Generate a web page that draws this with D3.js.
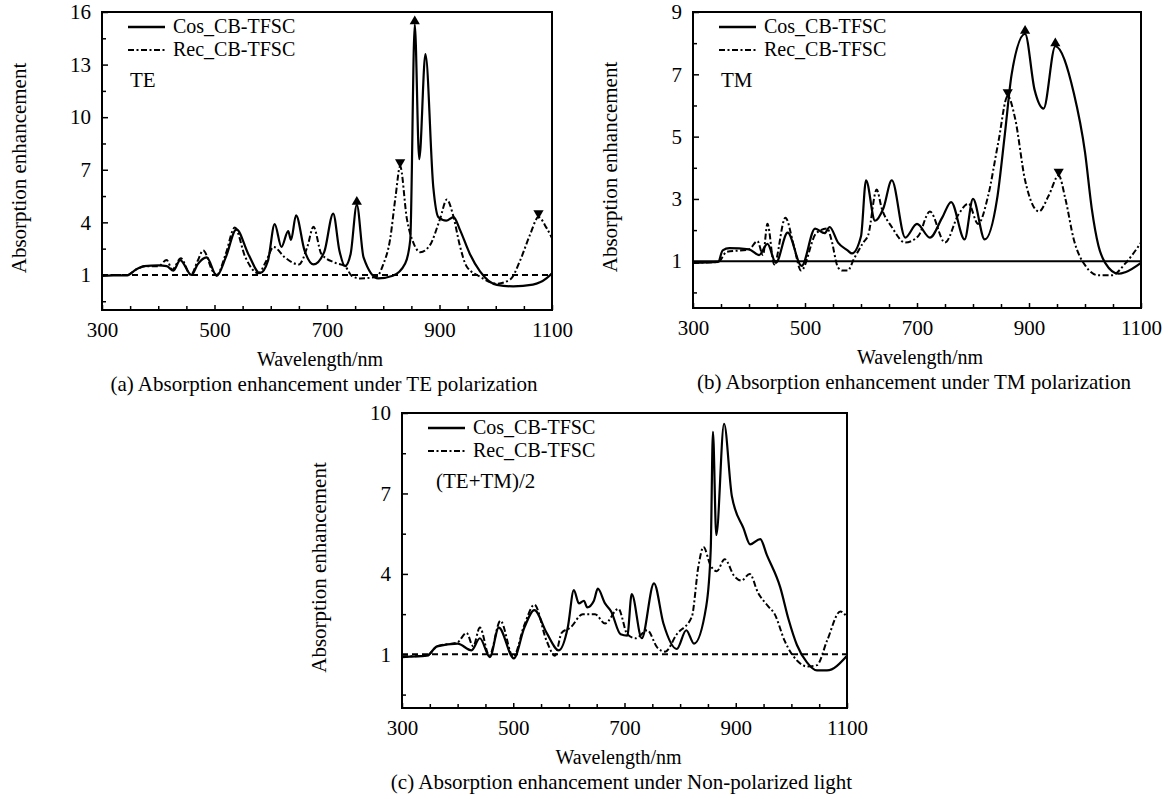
<!DOCTYPE html>
<html>
<head>
<meta charset="utf-8">
<script src="https://cdn.jsdelivr.net/npm/d3@7"></script>
<style>
  body { margin: 0; background: #fff; }
  svg text { font-family: "Liberation Serif", "Times New Roman", serif; fill: #000; }
</style>
</head>
<body>
<div id="viz"></div>
<script>
// [wavelength nm, absorption enhancement]
const teCos = [[300,0.95],[320,0.97],[345,0.98],[360,1.3],[375,1.5],[400,1.55],[415,1.5],[427,1.25],[439,1.85],[459,1.0],[470,1.6],[486,2.0],[504,0.95],[520,2.0],[539,3.6],[560,2.2],[581,1.1],[595,1.8],[607,3.9],[619,2.6],[631,3.5],[636,3.0],[645,4.4],[660,2.4],[676,1.6],[695,2.3],[711,4.5],[722,2.4],[732,1.5],[742,2.2],[753,5.0],[765,2.0],[791,0.8],[817,0.95],[839,1.65],[848,3.0],[856,15.3],[864,7.6],[875,13.6],[889,6.0],[898,4.3],[912,4.1],[925,4.3],[936,3.6],[954,2.2],[972,1.2],[1002,0.43],[1031,0.35],[1066,0.45],[1090,0.8],[1100,1.1]];
const teRec = [[300,1.0],[345,1.0],[360,1.3],[380,1.5],[400,1.5],[415,1.85],[425,1.3],[440,1.95],[458,1.0],[470,1.8],[480,2.4],[497,1.2],[504,1.0],[520,2.2],[536,3.7],[555,2.0],[578,1.1],[592,1.8],[605,2.6],[625,2.0],[650,1.6],[665,2.6],[676,3.75],[690,2.2],[714,1.7],[732,1.5],[744,0.95],[759,0.8],[788,0.9],[800,1.6],[812,3.0],[822,5.5],[830,7.2],[842,4.2],[854,2.8],[866,2.3],[883,2.7],[901,4.2],[913,5.3],[925,4.3],[936,2.7],[948,1.5],[972,0.9],[1002,0.5],[1026,0.75],[1043,1.8],[1061,3.3],[1076,4.3],[1090,3.7],[1100,3.1]];

const tmCos = [[300,0.95],[345,0.98],[353,1.35],[365,1.42],[400,1.38],[418,1.2],[433,1.56],[448,0.95],[469,1.92],[494,0.85],[518,2.05],[535,1.9],[544,2.1],[559,1.6],[576,1.35],[584,1.25],[600,1.8],[609,3.6],[625,2.3],[640,2.7],[655,3.6],[679,1.76],[700,2.2],[723,1.76],[745,2.4],[761,2.9],[785,1.7],[800,3.0],[821,1.7],[843,3.0],[857,5.1],[869,7.0],[893,8.3],[910,6.5],[926,5.9],[947,7.9],[980,6.4],[1000,4.5],[1012,2.7],[1024,1.5],[1036,0.95],[1060,0.6],[1072,0.65],[1100,0.95]];
const tmRec = [[300,0.95],[345,0.98],[360,1.3],[400,1.38],[415,1.65],[425,1.2],[433,2.2],[445,0.9],[465,2.4],[480,1.5],[493,0.7],[520,1.9],[540,2.05],[547,1.7],[559,0.8],[567,0.7],[576,0.7],[588,1.1],[604,1.6],[613,1.85],[628,3.3],[637,2.7],[655,2.1],[679,1.6],[702,1.8],[723,2.6],[750,1.6],[774,2.5],[792,2.85],[809,2.2],[827,3.1],[845,4.8],[862,6.3],[875,5.6],[893,3.6],[918,2.6],[935,3.1],[953,3.75],[965,3.0],[980,1.7],[1001,0.85],[1024,0.55],[1048,0.55],[1072,0.93],[1100,1.6]];

const avgCos = [[300,0.9],[345,0.95],[363,1.3],[400,1.4],[425,1.15],[440,1.6],[458,0.9],[474,2.0],[501,0.85],[520,2.0],[538,2.65],[560,1.8],[582,1.15],[598,2.0],[609,3.4],[618,2.9],[627,3.0],[633,2.75],[645,3.0],[652,3.45],[665,2.9],[676,2.6],[693,1.75],[705,1.7],[713,3.25],[731,1.6],[753,3.65],[770,2.15],[794,1.2],[811,1.9],[825,1.4],[847,2.8],[855,4.9],[859,9.3],[865,5.45],[879,9.6],[893,6.9],[914,5.7],[926,5.1],[944,5.3],[956,4.7],[980,3.5],[995,2.3],[1010,1.35],[1028,0.7],[1046,0.4],[1064,0.4],[1100,0.95]];
const avgRec = [[300,0.92],[345,0.95],[363,1.3],[400,1.45],[416,1.8],[428,1.3],[440,2.0],[457,0.95],[477,2.25],[500,0.9],[520,2.1],[538,2.85],[560,1.5],[575,0.95],[587,1.8],[603,2.0],[625,2.5],[647,2.5],[665,2.15],[689,2.7],[705,1.75],[720,1.6],[741,1.9],[759,1.25],[773,1.1],[794,1.75],[821,2.4],[833,4.3],[842,5.0],[855,4.3],[866,4.1],[880,4.55],[898,3.9],[910,3.75],[925,4.0],[940,3.3],[958,2.8],[970,2.5],[988,1.5],[1011,0.75],[1028,0.55],[1046,0.6],[1064,1.5],[1088,2.6],[1100,2.4]];

// peak markers
const teUpMarks = [[753,5.0],[856,15.3]];
const teDownMarks = [[830,7.2],[1076,4.3]];
const tmUpMarks = [[893,8.3],[947,7.9]];
const tmDownMarks = [[862,6.3],[953,3.75]];

const refLevel = 1;
const seriesNames = ["Cos_CB-TFSC", "Rec_CB-TFSC"];
const xTicks = [300, 500, 700, 900, 1100];
const teYTicks = [1, 4, 7, 10, 13, 16];
const tmYTicks = [1, 3, 5, 7, 9];
const avgYTicks = [1, 4, 7, 10];

const W = 1174, H = 799;
const dashDot = "6,2.5,2,2.5";

const svg = d3.select("#viz").append("svg")
    .attr("width", W)
    .attr("height", H);

const isIn = (arr, v) => arr.some(t => Math.abs(t - v) < 1e-6);

function drawPanel(p) {
    const x = d3.scaleLinear().domain([300, 1100]).range([p.left, p.left + p.width]);
    const y = d3.scaleLinear().domain(p.yDomain).range([p.top + p.height, p.top]);
    const g = svg.append("g");

    // ticks every 50 nm, labels every 200
    const xAll = d3.range(350, 1100, 50);
    const xAxis = g.append("g")
        .attr("transform", `translate(0,${p.top + p.height})`)
        .call(d3.axisBottom(x).tickValues(xTicks.concat(xAll.filter(v => !xTicks.includes(v))))
            .tickSize(0).tickPadding(12))
        .call(a => a.select(".domain").remove())
        .call(a => a.selectAll("text").style("font-size", "21px")
            .text(d => xTicks.includes(d) ? d : ""));
    xAxis.selectAll(".tick line")
        .attr("stroke-width", 1.5)
        .attr("y2", d => xTicks.includes(d) ? -5 : -4);

    // y ticks at every half major step, aligned on the major labels
    const half = p.yStep / 2;
    const y0 = p.yTicks[0] - Math.floor((p.yTicks[0] - p.yDomain[0]) / half + 1e-6) * half;
    const yAll = d3.range(y0, p.yDomain[1] + 1e-6, half);
    const yAxis = g.append("g")
        .attr("transform", `translate(${p.left},0)`)
        .call(d3.axisLeft(y).tickValues(yAll).tickSize(0).tickPadding(11))
        .call(a => a.select(".domain").remove())
        .call(a => a.selectAll("text").style("font-size", "21px")
            .text(d => isIn(p.yTicks, d) ? d : ""));
    yAxis.selectAll(".tick line")
        .attr("stroke-width", 1.5)
        .attr("x2", d => isIn(p.yTicks, d) ? 6 : 4);

    // reference level
    g.append("line")
        .attr("x1", x(300)).attr("x2", x(1100))
        .attr("y1", y(refLevel)).attr("y2", y(refLevel))
        .attr("stroke", "#000")
        .attr("stroke-width", 2)
        .attr("stroke-dasharray", p.refDash);

    const line = d3.line()
        .x(d => x(d[0]))
        .y(d => y(d[1]))
        .curve(d3.curveMonotoneX);

    g.append("path")
        .datum(p.rec)
        .attr("d", line)
        .attr("fill", "none")
        .attr("stroke", "#000")
        .attr("stroke-width", 2)
        .attr("stroke-dasharray", dashDot);

    g.append("path")
        .datum(p.cos)
        .attr("d", line)
        .attr("fill", "none")
        .attr("stroke", "#000")
        .attr("stroke-width", 2.2);

    const tri = d3.symbol(d3.symbolTriangle).size(45);
    g.selectAll(".up")
        .data(p.up || [])
        .join("path")
            .attr("d", tri)
            .attr("transform", d => `translate(${x(d[0])},${y(d[1]) - 3})`);
    g.selectAll(".down")
        .data(p.down || [])
        .join("path")
            .attr("d", tri)
            .attr("transform", d => `translate(${x(d[0])},${y(d[1]) - 4}) rotate(180)`);

    // frame
    g.append("rect")
        .attr("x", p.left).attr("y", p.top)
        .attr("width", p.width).attr("height", p.height)
        .attr("fill", "none")
        .attr("stroke", "#000")
        .attr("stroke-width", 2);

    // legend
    const lg = g.append("g").attr("transform", `translate(${p.left + 26},${p.top + 15})`);
    seriesNames.forEach((name, i) => {
        lg.append("line")
            .attr("x1", 0).attr("x2", 37)
            .attr("y1", i * 23).attr("y2", i * 23)
            .attr("stroke", "#000")
            .attr("stroke-width", i === 0 ? 2.5 : 2)
            .attr("stroke-dasharray", i === 0 ? null : dashDot);
        lg.append("text")
            .attr("x", 45).attr("y", i * 23 + 6)
            .style("font-size", "20px")
            .text(name);
    });

    g.append("text")
        .attr("x", p.left + p.tagDx).attr("y", p.top + 75)
        .style("font-size", "21px")
        .text(p.tag);

    g.append("text")
        .attr("transform", `translate(${p.left - 76},${p.top + p.height / 2 + 7}) rotate(-90)`)
        .attr("text-anchor", "middle")
        .style("font-size", "21px")
        .text("Absorption enhancement");

    g.append("text")
        .attr("x", p.left + p.width / 2 + p.labDx)
        .attr("y", p.top + p.height + 56)
        .attr("text-anchor", "middle")
        .style("font-size", "20px")
        .text("Wavelength/nm");

    g.append("text")
        .attr("x", p.left + p.width / 2 - 3)
        .attr("y", p.top + p.height + 81)
        .attr("text-anchor", "middle")
        .style("font-size", "21px")
        .text(p.caption);
}

drawPanel({
    left: 102, top: 12, width: 450, height: 298,
    yDomain: [-1, 16], yStep: 3, yTicks: teYTicks,
    cos: teCos, rec: teRec, up: teUpMarks, down: teDownMarks,
    refDash: "6,4", tag: "TE", tagDx: 28, labDx: -7,
    caption: "(a) Absorption enhancement under TE polarization"
});

drawPanel({
    left: 693, top: 12, width: 448, height: 296,
    yDomain: [-0.5, 9], yStep: 2, yTicks: tmYTicks,
    cos: tmCos, rec: tmRec, up: tmUpMarks, down: tmDownMarks,
    refDash: null, tag: "TM", tagDx: 28, labDx: 3,
    caption: "(b) Absorption enhancement under TM polarization"
});

drawPanel({
    left: 402, top: 413, width: 445, height: 295,
    yDomain: [-1, 10], yStep: 3, yTicks: avgYTicks,
    cos: avgCos, rec: avgRec,
    refDash: "6,4", tag: "(TE+TM)/2", tagDx: 34, labDx: -6,
    caption: "(c) Absorption enhancement under Non-polarized light"
});
</script>
</body>
</html>
